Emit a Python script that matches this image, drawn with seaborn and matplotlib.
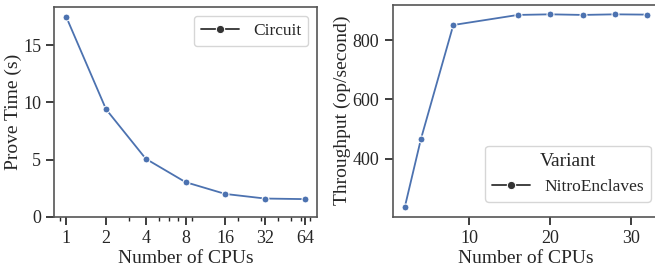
import numpy as np
import pandas as pd
import matplotlib
matplotlib.use("Agg")
import matplotlib.pyplot as plt
import seaborn as sns

# prove time vs number of CPUs (left panel)
prove_cpus = [1, 2, 4, 8, 16, 32, 64]
prove_time = [17.45, 9.4, 5.08, 3.04, 2.01, 1.61, 1.56]
prove_variant = ["Circuit"] * len(prove_cpus)

# throughput vs number of CPUs (right panel)
tput_cpus = [2, 4, 8, 16, 20, 24, 28, 32]
tput_vals = [237, 467, 851, 885, 887, 885, 887, 886]
tput_variant = ["NitroEnclaves"] * len(tput_cpus)

sns.set_theme(style="ticks")
plt.rcParams["font.family"] = ["Liberation Serif", "DejaVu Serif"]

df_prove = pd.DataFrame({"Number of CPUs": prove_cpus,
                         "Prove Time (s)": prove_time,
                         "Variant": prove_variant})
df_tput = pd.DataFrame({"Number of CPUs": tput_cpus,
                        "Throughput (op/second)": tput_vals,
                        "Variant": tput_variant})

fig = plt.figure(figsize=(6.55, 2.67), dpi=100)
ax1 = fig.add_axes([0.083, 0.1873, 0.4006, 0.7854])
ax2 = fig.add_axes([0.5995, 0.1884, 0.4073, 0.7940])

blue = sns.color_palette("deep")[0]

sns.lineplot(data=df_prove, x="Number of CPUs", y="Prove Time (s)",
             style="Variant", markers=["o"], dashes=False, color=blue,
             markersize=5, linewidth=1.3, ax=ax1)
ax1.set_xscale("log")
ax1.set_xticks(prove_cpus)
ax1.set_xticklabels([str(c) for c in prove_cpus])
ax1.set_ylim(0, 18.3)
ax1.set_yticks([0, 5, 10, 15])
leg1 = ax1.legend(loc="upper right", fontsize=12.5, handlelength=2.2,
                  markerscale=1.2)
leg1.set_title(None)

sns.lineplot(data=df_tput, x="Number of CPUs", y="Throughput (op/second)",
             style="Variant", markers=["o"], dashes=False, color=blue,
             markersize=5, linewidth=1.3, ax=ax2)
ax2.set_yticks([400, 600, 800])
ax2.set_xticks([10, 20, 30])
leg2 = ax2.legend(loc="lower right", title="Variant", fontsize=12.5,
                  title_fontsize=14, handlelength=2.2, markerscale=1.2,
                  bbox_to_anchor=(1.0, 0.03))

for leg in (leg1, leg2):
    for h in leg.legend_handles:
        h.set_color("#333333")
        h.set_markeredgecolor("white")

for ax in (ax1, ax2):
    for s in ax.spines.values():
        s.set_visible(True)
        s.set_color("#555555")
        s.set_linewidth(1.2)
    ax.tick_params(labelsize=13, colors="#262626")
    ax.tick_params(which="minor", length=3)
    ax.xaxis.label.set_size(14)
    ax.yaxis.label.set_size(14)
    ax.xaxis.labelpad = 2
    ax.yaxis.labelpad = 1

fig.savefig("out.png", dpi=100)
